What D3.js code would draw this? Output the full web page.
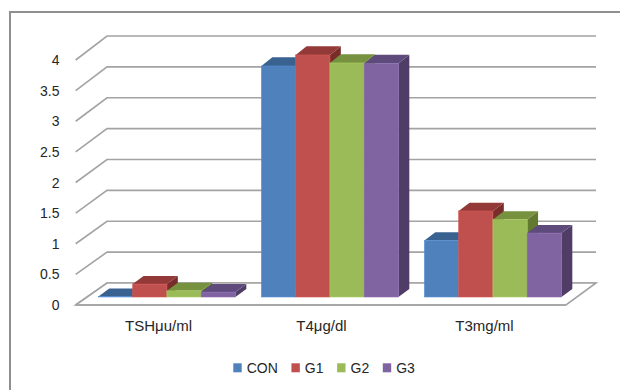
<!DOCTYPE html>
<html>
<head>
<meta charset="utf-8">
<script src="https://cdn.jsdelivr.net/npm/d3@7"></script>
<style>
  html, body { margin: 0; padding: 0; background: #fff; }
  svg { display: block; font-family: "Liberation Sans", Arial, sans-serif; }
</style>
</head>
<body>
<svg id="chart" width="620" height="390"></svg>
<script>
// Thyroid hormone levels by group
const categories = ["TSHμu/ml", "T4μg/dl", "T3mg/ml"];
const seriesNames = ["CON", "G1", "G2", "G3"];
const CON = [0.01, 3.76, 0.92];
const G1  = [0.21, 3.94, 1.40];
const G2  = [0.10, 3.81, 1.26];
const G3  = [0.08, 3.80, 1.04];
const yTicks = [0, 0.5, 1, 1.5, 2, 2.5, 3, 3.5, 4];
const yTickLabels = ["0", "0.5", "1", "1.5", "2", "2.5", "3", "3.5", "4"];

const seriesValues = [CON, G1, G2, G3];
const palette = {
  CON: { front: "#4f81bd", top: "#3a6291", side: "#2f4e74" },
  G1:  { front: "#c0504d", top: "#933a38", side: "#792d2b" },
  G2:  { front: "#9bbb59", top: "#77923f", side: "#617a2f" },
  G3:  { front: "#8064a2", top: "#5f4a7c", side: "#4f3d67" }
};

const svg = d3.select("#chart");

// Oblique 3D projection: front plane and back wall share the value axis
const yFront = d3.scaleLinear().domain([0, 4]).range([305, 60]);
const yBack  = d3.scaleLinear().domain([0, 4]).range([283, 36]);
const depthX = 30;
const yAt = (v, z) => yFront(v) + (yBack(v) - yFront(v)) * z;
const xAt = (x, z) => x + depthX * z;

const xCat = d3.scaleBand().domain(categories).range([77, 566]);
const xSer = d3.scaleBand().domain(seriesNames).range([10.5, 147.5]);
const z0 = 0.364, z1 = 0.727;

const gridColor = "#a3a3a3";

// Outer chart frame
svg.append("path")
  .attr("d", "M10,395V12H625")
  .attr("fill", "none")
  .attr("stroke", "#8f8f8f")
  .attr("stroke-width", 2);

// Back wall gridlines and left-side diagonals
const grid = svg.append("g");
yTicks.forEach(v => {
  grid.append("path")
    .attr("d", `M${xAt(77, 0) - 1.3},${yFront(v)}L${xAt(77, 1)},${yBack(v)}H${xAt(566, 1)}`)
    .attr("fill", "none")
    .attr("stroke", gridColor)
    .attr("stroke-width", 1.6);
});

// Floor
const fl = [77, 566];
svg.append("path")
  .attr("d", `M${xAt(fl[0], 0) - 1.3},${yFront(0)}H${xAt(fl[1], 0)}L${xAt(fl[1], 1)},${yBack(0)}H${xAt(fl[0], 1)}Z`)
  .attr("fill", "#fff")
  .attr("stroke", gridColor)
  .attr("stroke-width", 1.6);

// Bars
const bars = svg.append("g");
categories.forEach((cat, ci) => {
  seriesNames.forEach((s, si) => {
    const v = seriesValues[si][ci];
    const c = palette[s];
    const xa = xCat(cat) + xSer(s);
    const xb = xa + xSer.bandwidth();
    const fx0 = xAt(xa, z0), fx1 = xAt(xb, z0);
    const bx0 = xAt(xa, z1), bx1 = xAt(xb, z1);
    const yb0 = yAt(0, z0), yt0 = yAt(v, z0);
    const yb1 = yAt(0, z1), yt1 = yAt(v, z1);
    const g = bars.append("g");
    g.append("path")
      .attr("d", `M${fx1},${yt0}L${bx1},${yt1}L${bx1},${yb1}L${fx1},${yb0}Z`)
      .attr("fill", c.side);
    g.append("path")
      .attr("d", `M${fx0},${yt0}L${fx1},${yt0}L${bx1},${yt1}L${bx0},${yt1}Z`)
      .attr("fill", c.top);
    g.append("rect")
      .attr("x", fx0).attr("y", yt0)
      .attr("width", fx1 - fx0).attr("height", yb0 - yt0)
      .attr("fill", c.front)
      .attr("stroke", d3.color(c.front).brighter(0.25))
      .attr("stroke-width", 0.6);
  });
});

// Floor front edge on top of the bars
svg.append("path")
  .attr("d", `M${xAt(fl[0], 0) - 1.3},${yFront(0)}H${xAt(fl[1], 0)}`)
  .attr("stroke", gridColor)
  .attr("stroke-width", 1.6);

// Value axis labels
svg.append("g").selectAll("text")
  .data(yTicks)
  .join("text")
  .attr("x", 59.5)
  .attr("y", d => yFront(d))
  .attr("dy", "0.36em")
  .attr("text-anchor", "end")
  .attr("font-size", 14)
  .attr("fill", "#262626")
  .text((d, i) => yTickLabels[i]);

// Category labels
svg.append("g").selectAll("text")
  .data(categories)
  .join("text")
  .attr("x", d => xCat(d) + xCat.bandwidth() / 2)
  .attr("y", 331)
  .attr("text-anchor", "middle")
  .attr("font-size", 15)
  .attr("fill", "#262626")
  .text(d => d);

// Legend
const legend = svg.append("g");
let lx = 233.3;
seriesNames.forEach(s => {
  legend.append("rect")
    .attr("x", lx).attr("y", 363.3)
    .attr("width", 8.4).attr("height", 9)
    .attr("fill", palette[s].front);
  const t = legend.append("text")
    .attr("x", lx + 13.4)
    .attr("y", 373)
    .attr("font-size", 14)
    .attr("fill", "#262626")
    .text(s);
  lx += 13.4 + t.node().getComputedTextLength() + 13.6;
});
</script>
</body>
</html>
